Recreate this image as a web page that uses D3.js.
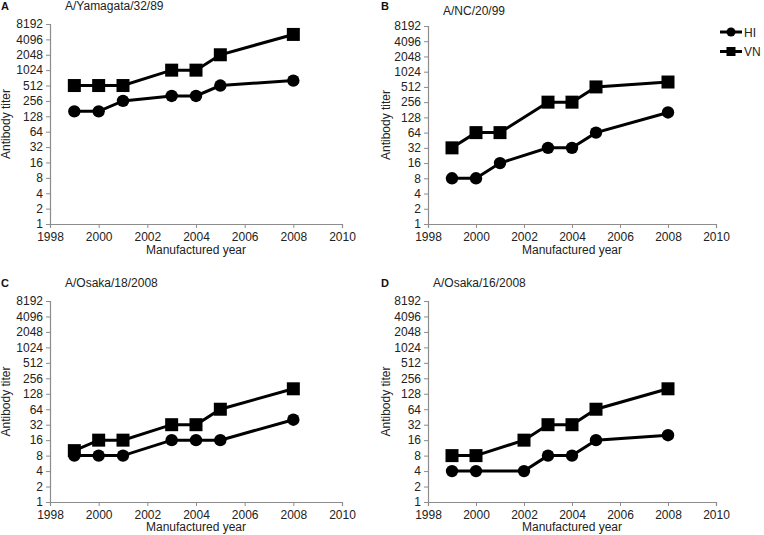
<!DOCTYPE html>
<html><head><meta charset="utf-8">
<script src="https://cdn.jsdelivr.net/npm/d3@7"></script>
<style>body{margin:0;background:#fff}svg{display:block}text{font-family:"Liberation Sans",Arial,sans-serif}</style>
</head><body>
<svg id="c" width="764" height="535"></svg>
<script>
const yTicks = [1,2,4,8,16,32,64,128,256,512,1024,2048,4096,8192];
const xTicks = [1998,2000,2002,2004,2006,2008,2010];
const seriesNames = ["HI","VN"];

const yearsA = [1999,2000,2001,2003,2004,2005,2008];
const hiA = [160,160,256,320,320,512,640];
const vnA = [512,512,512,1024,1024,2048,5120];

const yearsB = [1999,2000,2001,2003,2004,2005,2008];
const hiB = [8,8,16,32,32,64,160];
const vnB = [32,64,64,256,256,512,640];

const yearsC = [1999,2000,2001,2003,2004,2005,2008];
const hiC = [8,8,8,16,16,16,40];
const vnC = [10,16,16,32,32,64,160];

const yearsD = [1999,2000,2002,2003,2004,2005,2008];
const hiD = [4,4,4,8,8,16,20];
const vnD = [8,8,16,32,32,64,160];

const panels = [
  {letter:"A", title:"A/Yamagata/32/89", years:yearsA, hi:hiA, vn:vnA, l:50, r:342, t:24, b:224, ty:10, ly:10, tx:65, lx:1, ylx:10, xly:254},
  {letter:"B", title:"A/NC/20/99", years:yearsB, hi:hiB, vn:vnB, l:428, r:716, t:26, b:224, ty:15, ly:9.5, tx:443, lx:381, ylx:390, xly:254},
  {letter:"C", title:"A/Osaka/18/2008", years:yearsC, hi:hiC, vn:vnC, l:50, r:342, t:301, b:502, ty:287, ly:287, tx:65, lx:1, ylx:10, xly:531},
  {letter:"D", title:"A/Osaka/16/2008", years:yearsD, hi:hiD, vn:vnD, l:428, r:716, t:301, b:502, ty:287, ly:287, tx:433, lx:381, ylx:390, xly:531}
];

const svg = d3.select("#c");
const axisColor = "#8c8c8c";

panels.forEach(p => {
  const g = svg.append("g");
  const x = d3.scaleLinear().domain([1998,2010]).range([p.l,p.r]);
  const y = d3.scaleLog().base(2).domain([1,8192]).range([p.b,p.t]);

  const xa = g.append("g").attr("transform",`translate(0,${p.b})`)
    .call(d3.axisBottom(x).tickValues(xTicks).tickFormat(d3.format("d")).tickSizeOuter(0).tickSize(4).tickPadding(4));
  const ya = g.append("g").attr("transform",`translate(${p.l},0)`)
    .call(d3.axisLeft(y).tickValues(yTicks).tickFormat(d=>d).tickSizeOuter(0).tickSize(4).tickPadding(3));
  [xa,ya].forEach(a=>{
    a.select(".domain").attr("stroke",axisColor).attr("stroke-width",1.2);
    a.selectAll(".tick line").attr("stroke",axisColor);
    a.selectAll("text").attr("fill","#222").style("font-size","12px").style("font-family","'Liberation Sans',Arial,sans-serif");
  });

  g.append("text").attr("x",p.lx).attr("y",p.ly).text(p.letter)
    .style("font-size","11px").style("font-weight","bold").attr("fill","#111");
  g.append("text").attr("x",p.tx).attr("y",p.ty).text(p.title)
    .style("font-size","12px").attr("fill","#222");
  g.append("text").attr("x",(p.l+p.r)/2).attr("y",p.xly).attr("text-anchor","middle")
    .text("Manufactured year").style("font-size","12px").attr("fill","#222");
  g.append("text").attr("transform",`translate(${p.ylx},${(p.t+p.b)/2}) rotate(-90)`)
    .attr("text-anchor","middle").text("Antibody titer").style("font-size","12px").attr("fill","#222");

  const line = d3.line().x(d=>x(d[0])).y(d=>y(d[1]));
  [[p.vn,"VN"],[p.hi,"HI"]].forEach(([vals,name])=>{
    const pts = p.years.map((yr,i)=>[yr,vals[i]]);
    g.append("path").datum(pts).attr("d",line).attr("fill","none").attr("stroke","#000").attr("stroke-width",3);
    if(name==="HI"){
      g.selectAll(null).data(pts).enter().append("circle")
        .attr("cx",d=>x(d[0])).attr("cy",d=>y(d[1])).attr("r",6.2).attr("fill","#000");
    } else {
      g.selectAll(null).data(pts).enter().append("rect")
        .attr("x",d=>x(d[0])-6.5).attr("y",d=>y(d[1])-6.5).attr("width",13).attr("height",13).attr("fill","#000");
    }
  });
});

// legend
const leg = svg.append("g");
seriesNames.forEach((name,i)=>{
  const yy = 32 + i*19.5;
  leg.append("line").attr("x1",720).attr("x2",742).attr("y1",yy).attr("y2",yy).attr("stroke","#000").attr("stroke-width",3);
  if(name==="HI") leg.append("circle").attr("cx",731).attr("cy",yy).attr("r",4.5).attr("fill","#000");
  else leg.append("rect").attr("x",726.5).attr("y",yy-4.5).attr("width",9).attr("height",9).attr("fill","#000");
  leg.append("text").attr("x",744).attr("y",yy+4.5).text(name).style("font-size","12px").attr("fill","#222");
});
</script>
</body></html>
